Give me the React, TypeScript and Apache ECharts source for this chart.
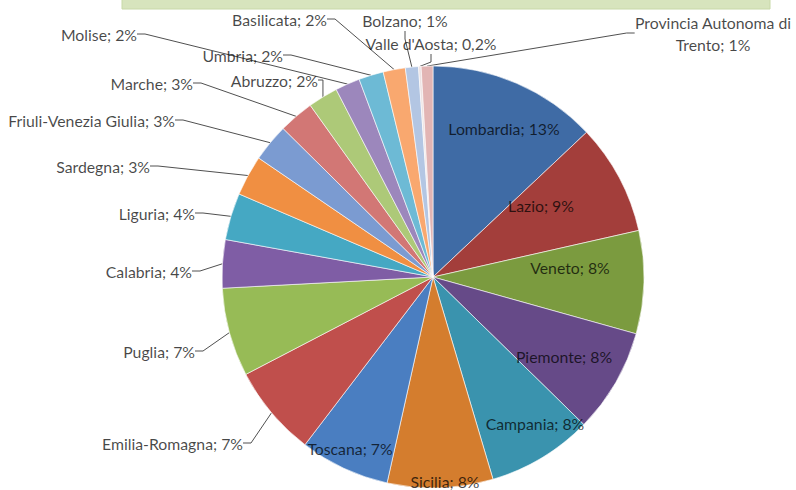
import React, { useEffect, useRef } from "react";
import * as echarts from "echarts";

const regions = [
  "Lombardia",
  "Lazio",
  "Veneto",
  "Piemonte",
  "Campania",
  "Sicilia",
  "Toscana",
  "Emilia-Romagna",
  "Puglia",
  "Calabria",
  "Liguria",
  "Sardegna",
  "Friuli-Venezia Giulia",
  "Marche",
  "Abruzzo",
  "Molise",
  "Umbria",
  "Basilicata",
  "Bolzano",
  "Valle d'Aosta",
  "Provincia Autonoma di\nTrento",
];

const shares = [13.0, 8.5, 7.9, 8.0, 8.1, 8.1, 6.9, 7.0, 6.8, 3.7, 3.6, 3.1, 2.9, 2.7, 2.3, 1.9, 1.9, 1.7, 1.0, 0.2, 0.9];

const shareLabels = ["13%", "9%", "8%", "8%", "8%", "8%", "7%", "7%", "7%", "4%", "4%", "3%", "3%", "3%", "2%", "2%", "2%", "2%", "1%", "0,2%", "1%"];

const sliceColors = [
  "#3F6BA5", "#A33E3B", "#7B9B3F", "#664A88", "#3A93AE", "#D47D2E",
  "#4A7EC1", "#C04F4C", "#97BB56", "#7F5DA5", "#45A8C3", "#F08F42",
  "#7B9BD1", "#D27775", "#ADC978", "#9C87BC", "#6DBAD5", "#F9A86F",
  "#B3C6E3", "#EDE3E3", "#E2B5B4",
];

const insideCount = 7;

// label anchor layout in px: x, y, text alignment
const labelAnchors: [number, number, string][] = [
  [504, 128, "center"],
  [541, 205, "center"],
  [570, 267, "center"],
  [564, 356, "center"],
  [535, 423, "center"],
  [445, 481, "center"],
  [350, 448, "center"],
  [243, 443, "right"],
  [195, 351, "right"],
  [192, 271, "right"],
  [195, 213, "right"],
  [150, 166, "right"],
  [175, 120, "right"],
  [193, 83, "right"],
  [318, 80, "right"],
  [137, 34, "right"],
  [283, 55, "right"],
  [327, 19, "right"],
  [405, 20, "center"],
  [431, 43, "center"],
  [713, 33, "center"],
];

export default function App() {
  const ref = useRef<HTMLDivElement>(null);
  useEffect(() => {
    if (!ref.current) return;
    const chart = echarts.init(ref.current, null, { renderer: "svg" });
    const data = regions.map((name, i) => ({
      name,
      value: shares[i],
      itemStyle: { color: sliceColors[i] },
      label: i < insideCount ? { position: "inside" } : { position: "outside" },
      labelLine: { show: i >= insideCount },
    }));
    chart.setOption({
      animation: false,
      backgroundColor: "#ffffff",
      graphic: [
        {
          type: "rect",
          shape: { x: 122, y: -2, width: 648, height: 11 },
          style: { fill: "#D7E4BD", stroke: "#C8D9A8", lineWidth: 1 },
        },
      ],
      series: [
        {
          type: "pie",
          center: [433, 277],
          radius: 211,
          startAngle: 90,
          clockwise: true,
          avoidLabelOverlap: false,
          itemStyle: { borderColor: "rgba(255,255,255,0.75)", borderWidth: 0.8 },
          label: {
            show: true,
            color: "rgba(0,0,0,0.72)",
            fontFamily: "Lato",
            fontSize: 15.8,
            lineHeight: 22,
            formatter: (p: any) => `${p.name}; ${shareLabels[p.dataIndex]}`,
          },
          labelLine: {
            show: true,
            length: 10,
            length2: 8,
            smooth: false,
            lineStyle: { color: "#505050", width: 1 },
          },
          labelLayout: (params: any) => {
            const a = labelAnchors[params.dataIndex];
            return { x: a[0], y: a[1], align: a[2], verticalAlign: "middle" };
          },
          emphasis: { disabled: true },
          data,
        },
      ],
    });
    return () => chart.dispose();
  }, []);
  return (
    <div
      ref={ref}
      style={{ position: "fixed", left: 0, top: 0, width: 796, height: 490, background: "#fff" }}
    />
  );
}
